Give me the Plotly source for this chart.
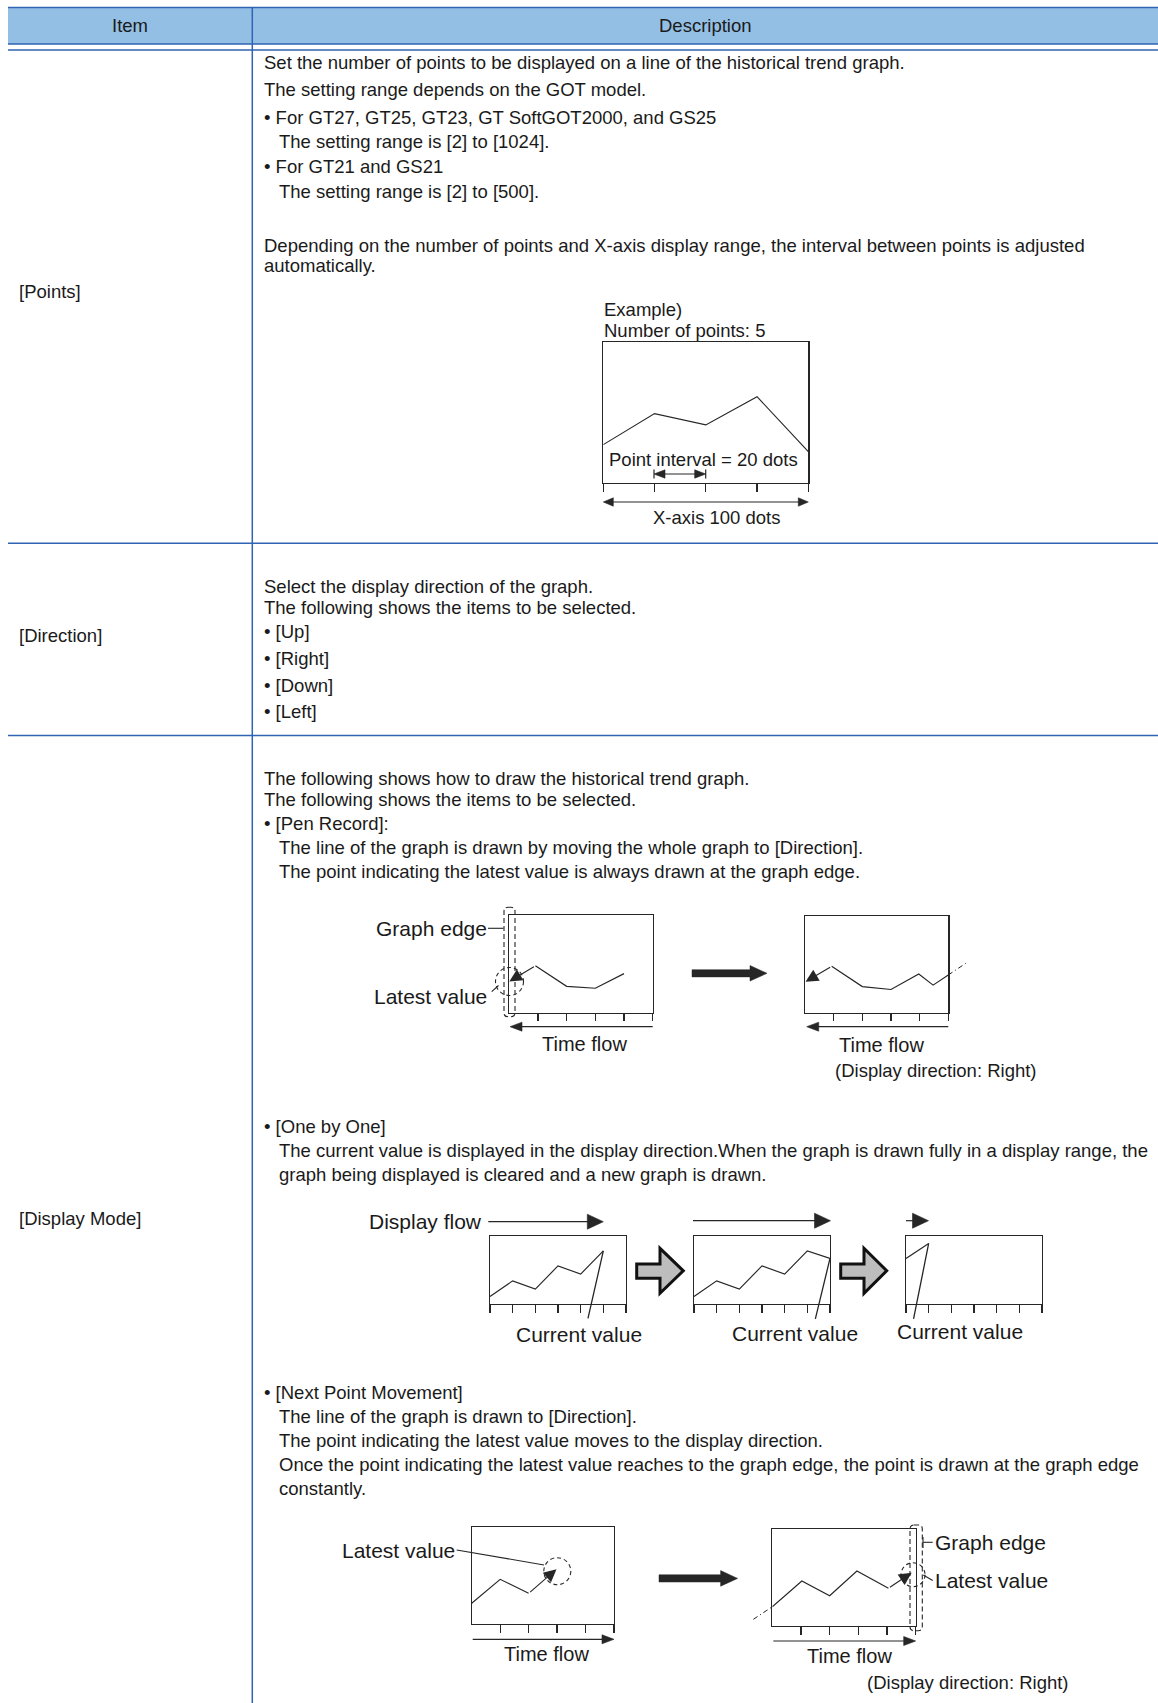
import plotly.graph_objects as go

W, H = 1158, 1703
FONT = "Arial, 'Liberation Sans', Helvetica, sans-serif"
TXT = "#1a1a1a"
INK = "#262626"
BLUE = "#2f63b3"
HEAD_FILL = "#94bfe4"
GRAY_FILL = "#bdbdbd"

# ---------------- text content ----------------
header_labels = ["Item", "Description"]
row_labels = ["[Points]", "[Direction]", "[Display Mode]"]

points_lines = [
    "Set the number of points to be displayed on a line of the historical trend graph.",
    "The setting range depends on the GOT model.",
    "• For GT27, GT25, GT23, GT SoftGOT2000, and GS25",
    "The setting range is [2] to [1024].",
    "• For GT21 and GS21",
    "The setting range is [2] to [500].",
    "Depending on the number of points and X-axis display range, the interval between points is adjusted",
    "automatically.",
]
points_indent = [0, 0, 0, 1, 0, 1, 0, 0]

direction_lines = [
    "Select the display direction of the graph.",
    "The following shows the items to be selected.",
    "• [Up]",
    "• [Right]",
    "• [Down]",
    "• [Left]",
]
direction_indent = [0, 0, 0, 0, 0, 0]

mode_lines = [
    "The following shows how to draw the historical trend graph.",
    "The following shows the items to be selected.",
    "• [Pen Record]:",
    "The line of the graph is drawn by moving the whole graph to [Direction].",
    "The point indicating the latest value is always drawn at the graph edge.",
    "• [One by One]",
    "The current value is displayed in the display direction.When the graph is drawn fully in a display range, the",
    "graph being displayed is cleared and a new graph is drawn.",
    "• [Next Point Movement]",
    "The line of the graph is drawn to [Direction].",
    "The point indicating the latest value moves to the display direction.",
    "Once the point indicating the latest value reaches to the graph edge, the point is drawn at the graph edge",
    "constantly.",
]
mode_indent = [0, 0, 0, 1, 1, 0, 1, 1, 0, 1, 1, 1, 1]

# ---------------- trend values (0-100 scale of each mini graph) ----------------
example_x = [0, 1, 2, 3, 4]
example_y = [27, 49, 41, 61, 22]

pen_before_x = [0, 0.91, 2, 3, 4]
pen_before_y = [32, 48, 27, 25, 40]

pen_after_x = [0.02, 0.93, 2, 3, 3.97, 4.47, 5]
pen_after_y = [32, 48, 27, 24, 40, 28.5, 39]
pen_after_ext_x = [5, 5.64]
pen_after_ext_y = [39, 51.7]

obo_x = [0, 1, 2, 3, 4, 5, 6]
obo_y = [11, 34, 22, 56, 44, 78, 67]
obo_new_x = [0, 1]
obo_new_y = [67, 89]

npm_before_x = [0, 1, 2, 2.98]
npm_before_y = [21.4, 46.2, 31.7, 56.6]

npm_after_x = [0, 1.03, 2, 2.95, 4.05, 4.86]
npm_after_y = [19.9, 46.4, 31.2, 56.7, 38.9, 54.9]
npm_after_ext_x = [-0.66, 0]
npm_after_ext_y = [6.9, 19.9]

# ---------------- figure / overlay axes (pixel space) ----------------
fig = go.Figure()
fig.update_layout(
    width=W, height=H, autosize=False,
    margin=dict(l=0, r=0, t=0, b=0),
    paper_bgcolor="white", plot_bgcolor="rgba(0,0,0,0)",
    showlegend=False,
    xaxis=dict(range=[0, W], domain=[0, 1], visible=False, fixedrange=True),
    yaxis=dict(range=[H, 0], domain=[0, 1], visible=False, fixedrange=True),
)
fig.add_trace(go.Scatter(x=[0], y=[0], mode="markers", marker=dict(opacity=0),
                         hoverinfo="skip", xaxis="x", yaxis="y"))


def txt(x, y, s, size=18.5, xanchor="left", color=TXT):
    fig.add_annotation(x=x, y=y, xref="x", yref="y", text=s, showarrow=False,
                       xanchor=xanchor, yanchor="middle",
                       font=dict(size=size, color=color, family=FONT))


def line(x0, y0, x1, y1, color=INK, width=1.2, dash=None):
    fig.add_shape(type="line", x0=x0, y0=y0, x1=x1, y1=y1, xref="x", yref="y",
                  line=dict(color=color, width=width, dash=dash))


def head(tx, ty, dx, dy, L, hw, color=INK):
    bx, by = tx - dx * L, ty - dy * L
    px, py = -dy, dx
    path = (f"M{tx},{ty} L{bx + px * hw},{by + py * hw} "
            f"L{bx - px * hw},{by - py * hw} Z")
    fig.add_shape(type="path", path=path, xref="x", yref="y",
                  fillcolor=color, line=dict(color=color, width=0.6))


def arrow(x0, y0, x1, y1, L=12, hw=4.5, both=False, width=1.2):
    d = ((x1 - x0) ** 2 + (y1 - y0) ** 2) ** 0.5
    dx, dy = (x1 - x0) / d, (y1 - y0) / d
    sx = x0 + dx * L * 0.8 if both else x0
    sy = y0 + dy * L * 0.8 if both else y0
    line(sx, sy, x1 - dx * L * 0.8, y1 - dy * L * 0.8, width=width)
    head(x1, y1, dx, dy, L, hw)
    if both:
        head(x0, y0, -dx, -dy, L, hw)


def block_arrow(x0, x1, yc, shw, L, hhw):
    xb = x1 - L
    path = (f"M{x0},{yc - shw} L{xb},{yc - shw} L{xb},{yc - hhw} L{x1},{yc} "
            f"L{xb},{yc + hhw} L{xb},{yc + shw} L{x0},{yc + shw} Z")
    fig.add_shape(type="path", path=path, xref="x", yref="y",
                  fillcolor=INK, line=dict(color=INK, width=0.5))


def gray_arrow(x0, xb, x1, ys0, ys1, yh0, yh1):
    yc = (yh0 + yh1) / 2
    path = (f"M{x0},{ys0} L{xb},{ys0} L{xb},{yh0} L{x1},{yc} L{xb},{yh1} "
            f"L{xb},{ys1} L{x0},{ys1} Z")
    fig.add_shape(type="path", path=path, xref="x", yref="y",
                  fillcolor=GRAY_FILL, line=dict(color="#111111", width=3))


def dashed_circle(cx, cy, r):
    fig.add_shape(type="circle", x0=cx - r, x1=cx + r, y0=cy - r, y1=cy + r,
                  xref="x", yref="y", line=dict(color=INK, width=1.1, dash="4px,3px"))


def dashed_rrect(x0, x1, y0, y1, r=4):
    p = (f"M{x0 + r},{y0} L{x1 - r},{y0} Q{x1},{y0} {x1},{y0 + r} "
         f"L{x1},{y1 - r} Q{x1},{y1} {x1 - r},{y1} L{x0 + r},{y1} "
         f"Q{x0},{y1} {x0},{y1 - r} L{x0},{y0 + r} Q{x0},{y0} {x0 + r},{y0} Z")
    fig.add_shape(type="path", path=p, xref="x", yref="y",
                  line=dict(color=INK, width=1.1, dash="5px,3px"))


# ---------------- table ----------------
fig.add_shape(type="rect", x0=8, x1=W, y0=7.5, y1=44, xref="x", yref="y",
              fillcolor=HEAD_FILL, line=dict(width=0), layer="below")
for yy in [7.5, 44, 50, 543.3, 735.4]:
    line(8, yy, W, yy, color=BLUE, width=1.5)
line(252.3, 7.5, 252.3, H, color=BLUE, width=1.5)

txt(130, 25, header_labels[0], xanchor="center")
txt(705, 25, header_labels[1], xanchor="center")

for lab, yy in zip(row_labels, [291, 635.5, 1218.8]):
    txt(16.5, yy, lab)

X0, XI = 261.5, 276.5
for s, ind, yy in zip(points_lines, points_indent,
                      [62.5, 89.5, 117, 141, 166, 191, 245, 265.5]):
    txt(XI if ind else X0, yy, s)
for s, ind, yy in zip(direction_lines, direction_indent,
                      [586.3, 607, 631, 658, 685.2, 711.2]):
    txt(XI if ind else X0, yy, s)
for s, ind, yy in zip(mode_lines, mode_indent,
                      [778.6, 799.2, 823.2, 847, 871, 1126.3, 1150.2, 1174,
                       1392.4, 1416.3, 1440.2, 1464.1, 1488]):
    txt(XI if ind else X0, yy, s)

# ---------------- mini graph axes ----------------
AX = dict(showticklabels=False, showgrid=False, zeroline=False, fixedrange=True)


def panel(k, box, n, ticks, ticklen):
    l, r, t, b = box
    fig.layout[f"xaxis{k}"] = dict(domain=[l / W, r / W], range=[0, n], anchor=f"y{k}",
                                   showline=True, mirror=True, linecolor=INK, linewidth=1.2,
                                   ticks="outside", tickvals=ticks, ticklen=ticklen,
                                   tickwidth=1.2, tickcolor=INK, **AX)
    fig.layout[f"yaxis{k}"] = dict(domain=[1 - b / H, 1 - t / H], range=[0, 100],
                                   anchor=f"x{k}", showline=True, mirror=True,
                                   linecolor=INK, linewidth=1.2, ticks="", **AX)


def ext_panel(k, box, n, pad_l, pad_r):
    l, r, t, b = box
    ppu = (r - l) / n
    fig.layout[f"xaxis{k}"] = dict(domain=[(l - pad_l) / W, (r + pad_r) / W],
                                   range=[-pad_l / ppu, n + pad_r / ppu],
                                   anchor=f"y{k}", visible=False, **AX)
    fig.layout[f"yaxis{k}"] = dict(domain=[1 - b / H, 1 - t / H], range=[0, 100],
                                   anchor=f"x{k}", visible=False, **AX)


def trend(k, xs, ys, dash=None, width=1.15):
    fig.add_trace(go.Scatter(x=xs, y=ys, mode="lines", xaxis=f"x{k}", yaxis=f"y{k}",
                             line=dict(color=INK, width=width, dash=dash),
                             hoverinfo="skip"))


def tip_arrow(k, x_from, y_from, x_to, y_to):
    fig.add_annotation(x=x_to, y=y_to, ax=x_from, ay=y_from, xref=f"x{k}", yref=f"y{k}",
                       axref=f"x{k}", ayref=f"y{k}", text="", showarrow=True,
                       arrowhead=2, arrowsize=2.3, arrowwidth=1.1, arrowcolor=INK, standoff=0)


def leader(k, x, y, dx, dy):
    fig.add_annotation(x=x, y=y, xref=f"x{k}", yref=f"y{k}", ax=dx, ay=dy,
                       text="", showarrow=True, arrowhead=0, arrowwidth=1.3,
                       arrowcolor=INK, font=dict(size=1))


BOX_EX = (603.3, 808.3, 341.7, 482.7)
BOX_PEN1 = (509.3, 652.7, 915, 1012.7)
BOX_PEN2 = (805, 948.3, 916, 1012.7)
BOX_OBO1 = (490, 626, 1236, 1304)
BOX_OBO2 = (694, 830, 1236, 1304)
BOX_OBO3 = (906, 1042, 1236, 1304)
BOX_NPM1 = (471.7, 614, 1527.3, 1624)
BOX_NPM2 = (772.3, 915.7, 1529, 1626)

panel(2, BOX_EX, 4, [0, 1, 2, 3, 4], 8)
panel(3, BOX_PEN1, 5, [1, 2, 3, 4, 5], 7)
panel(4, BOX_PEN2, 5, [1, 2, 3, 4, 5], 7)
panel(5, BOX_OBO1, 6, [0, 1, 2, 3, 4, 5, 6], 8)
panel(6, BOX_OBO2, 6, [0, 1, 2, 3, 4, 5, 6], 8)
panel(7, BOX_OBO3, 6, [0, 1, 2, 3, 4, 5, 6], 8)
panel(8, BOX_NPM1, 5, [1, 2, 3, 4, 5], 7.5)
panel(9, BOX_NPM2, 5, [1, 2, 3, 4, 5], 7.5)
ext_panel(10, BOX_PEN2, 5, 0, 30)
ext_panel(11, BOX_NPM2, 5, 30, 0)

# Points example
trend(2, example_x, example_y)

# Pen record
trend(3, pen_before_x[1:], pen_before_y[1:])
tip_arrow(3, pen_before_x[1], pen_before_y[1], pen_before_x[0], pen_before_y[0])
trend(4, pen_after_x[1:], pen_after_y[1:])
tip_arrow(4, pen_after_x[1], pen_after_y[1], pen_after_x[0], pen_after_y[0])
trend(10, pen_after_ext_x, pen_after_ext_y, dash="5px,3px,1px,3px", width=1)

# One by one
trend(5, obo_x[:6], obo_y[:6])
leader(5, obo_x[5], obo_y[5], -15.7, 69)
trend(6, obo_x, obo_y)
leader(6, obo_x[6], obo_y[6], -15, 62)
trend(7, obo_new_x, obo_new_y)
leader(7, obo_new_x[1], obo_new_y[1], -15.4, 77)

# Next point movement
trend(8, npm_before_x[:3], npm_before_y[:3])
tip_arrow(8, npm_before_x[2], npm_before_y[2], npm_before_x[3], npm_before_y[3])
trend(9, npm_after_x[:5], npm_after_y[:5])
tip_arrow(9, npm_after_x[4], npm_after_y[4], npm_after_x[5], npm_after_y[5])
trend(11, npm_after_ext_x, npm_after_ext_y, dash="5px,3px,1px,3px", width=1)

# ---------------- diagram decorations ----------------
# Points example
txt(602, 309, "Example)")
txt(602, 330, "Number of points: 5")
txt(703, 459.5, "Point interval = 20 dots", xanchor="center")
arrow(654, 474, 705.7, 474, L=11, hw=4.2, both=True)
line(654, 469.5, 654, 478.5)
line(705.7, 469.5, 705.7, 478.5)
arrow(603.3, 502, 808.3, 502, L=10, hw=4.2, both=True)
txt(716.5, 517, "X-axis 100 dots", xanchor="center")

# Pen record
dashed_rrect(504, 515, 907.3, 1016.7)
dashed_circle(509.5, 981.5, 14)
txt(489, 928.3, "Graph edge", size=21, xanchor="right")
line(488, 928.3, 503.5, 928.3, width=1.1)
txt(489, 996, "Latest value", size=21, xanchor="right")
line(491.7, 991.7, 498.5, 985.5, width=1.1)
arrow(652.7, 1026.7, 510, 1026.7, L=12, hw=4.5)
txt(584, 1044, "Time flow", size=20, xanchor="center")
block_arrow(692, 767, 973.3, 3.6, 17, 7.8)
arrow(948.3, 1026.7, 806.7, 1026.7, L=12, hw=4.5)
txt(881.5, 1045, "Time flow", size=20, xanchor="center")
txt(936, 1070, "(Display direction: Right)", xanchor="center")

# One by one
txt(484, 1221.7, "Display flow", size=21, xanchor="right")
arrow(488.3, 1221.7, 603.3, 1221.7, L=16, hw=7.5)
arrow(693, 1220.7, 830.5, 1220.7, L=16, hw=7.5)
arrow(906, 1220.7, 928.5, 1220.7, L=16, hw=7.5)
gray_arrow(636.7, 660, 683.3, 1264, 1278.3, 1248.3, 1293.3)
gray_arrow(840.7, 864, 886.7, 1264, 1278.3, 1248.3, 1293.3)
txt(578.5, 1334, "Current value", size=21, xanchor="center")
txt(795, 1333, "Current value", size=21, xanchor="center")
txt(959.5, 1331.5, "Current value", size=21, xanchor="center")

# Next point movement
txt(457, 1550, "Latest value", size=21, xanchor="right")
line(456.7, 1550, 544, 1565, width=1.1)
dashed_circle(557.3, 1571.2, 13.5)
arrow(472.7, 1639.3, 614, 1639.3, L=12, hw=4.5)
txt(546.7, 1654, "Time flow", size=20, xanchor="center")
block_arrow(659, 737.6, 1578.4, 3.6, 17, 7.8)
dashed_rrect(910, 922.3, 1525, 1630.7)
dashed_circle(913, 1574.7, 12)
line(923, 1537, 923, 1548, width=1.1)
line(923, 1542.3, 932.7, 1542.3, width=1.1)
txt(933, 1542.3, "Graph edge", size=21)
line(923.3, 1575, 932.7, 1580.5, width=1.1)
txt(933, 1580.7, "Latest value", size=21)
arrow(773.3, 1641, 915.7, 1641, L=12, hw=4.5)
txt(849.3, 1656, "Time flow", size=20, xanchor="center")
txt(968.3, 1682.5, "(Display direction: Right)", xanchor="center")

fig.write_html("out.html", include_plotlyjs=True,
               config={"displayModeBar": False, "staticPlot": True},
               post_script="document.body.style.margin='0';document.body.style.overflow='hidden';")
